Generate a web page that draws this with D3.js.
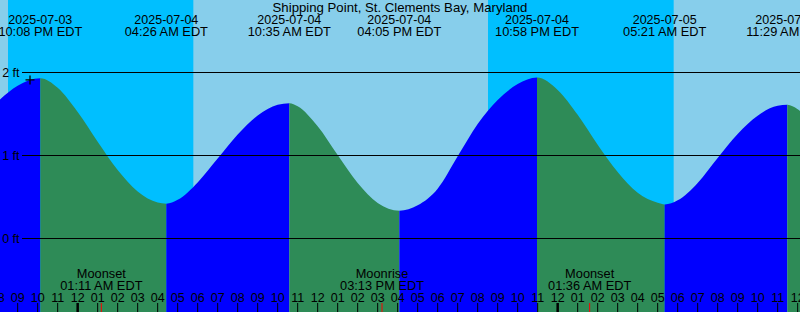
<!DOCTYPE html>
<html><head><meta charset="utf-8">
<script src="https://cdn.jsdelivr.net/npm/d3@7"></script>
<style>
body{margin:0;background:#fff}
svg{display:block}
text{font-family:"Liberation Sans",Arial,Helvetica,sans-serif;font-size:12.5px;fill:#000}
text.t{font-size:12.8px}
text.title{font-size:13.2px}
</style>
</head><body>
<svg id="c" width="800" height="312"></svg>
<script>
// ---- data ----
const title = "Shipping Point, St. Clements Bay, Maryland";
const chartStart = "2025-07-03 20:07";
const chartEnd = "2025-07-05 12:07";
const sunsetTimes = ["2025-07-03 20:31", "2025-07-04 20:31"];
const sunriseTimes = ["2025-07-04 05:47", "2025-07-05 05:48"];
const extremeTimes = ["2025-07-03 22:08","2025-07-04 04:26","2025-07-04 10:35","2025-07-04 16:05","2025-07-04 22:58","2025-07-05 05:21","2025-07-05 11:29"];
const extremeHeights = [1.93, 0.42, 1.63, 0.335, 1.94, 0.41, 1.61];
const extremeTypes = ["high","low","high","low","high","low","high"];
// hourly heights (ft), 2025-07-03 20:00 ... 2025-07-05 13:00
const hourlyStart = "2025-07-03 20:00";
const hourlyHeights = [
  1.65, 1.84, 1.928, 1.815,
  1.523, 1.166, 0.824, 0.565, 0.433, 0.466, 0.676, 0.963, 1.252, 1.482, 1.61, 1.594,
  1.351, 1.005, 0.669, 0.429, 0.336, 0.40, 0.60, 0.99, 1.38, 1.67, 1.86, 1.94,
  1.79, 1.49, 1.13, 0.80, 0.55, 0.43, 0.46, 0.67, 0.97, 1.26, 1.48, 1.60,
  1.556, 1.30
];
const moonTimes = ["2025-07-04 01:11", "2025-07-04 15:13", "2025-07-05 01:36"];
const moonLabels = ["Moonset", "Moonrise", "Moonset"];
const markTime = "2025-07-03 21:37";
const markHeight = 1.91;
const yTicks = [0, 1, 2];

// ---- chart ----
const W = 800, H = 312;
const parse = d3.timeParse("%Y-%m-%d %H:%M");
const svg = d3.select("#c");
const x = d3.scaleTime().domain([parse(chartStart), parse(chartEnd)]).range([0, W]);
const y = d3.scaleLinear().domain([0, 2]).range([238.5, 72.5]);

const colors = {day:"#87CEEB", night:"#00BFFF", rise:"#0000FF", fall:"#2E8B57"};

svg.append("rect").attr("x",0).attr("y",0).attr("width",W).attr("height",H).attr("fill",colors.day);
sunsetTimes.forEach((s,i)=>{
  const x0 = x(parse(s)), x1 = x(parse(sunriseTimes[i]));
  svg.append("rect").attr("x",x0).attr("y",0).attr("width",x1-x0).attr("height",H).attr("fill",colors.night);
});

// tide series
const t0 = parse(hourlyStart);
const hours = hourlyHeights.map((h,i)=>({t:d3.timeHour.offset(t0,i), h}));
const extremes = extremeTimes.map((s,i)=>({t:parse(s), h:extremeHeights[i], type:extremeTypes[i]}));
const series = hours.filter(d=>!extremes.some(e=>Math.abs(e.t-d.t)<20*60000))
  .concat(extremes.map(e=>({t:e.t,h:e.h})))
  .sort((a,b)=>a.t-b.t);

const area = d3.area().curve(d3.curveMonotoneX).x(d=>x(d.t)).y0(H).y1(d=>y(d.h));
const defs = svg.append("defs");
const bounds = [x.domain()[0]].concat(extremes.map(e=>e.t)).concat([x.domain()[1]]);
for (let i=0;i<bounds.length-1;i++){
  const a = x(bounds[i]), b = x(bounds[i+1]);
  const next = extremes[i];
  let col;
  if (next) col = next.type==="high" ? colors.rise : colors.fall;
  else col = extremes[extremes.length-1].type==="high" ? colors.fall : colors.rise;
  const id = "seg"+i;
  defs.append("clipPath").attr("id",id).append("rect")
    .attr("x",Math.min(a,b)).attr("y",0).attr("width",Math.abs(b-a)).attr("height",H);
  svg.append("path").datum(series).attr("d",area).attr("fill",col).attr("clip-path",`url(#${id})`);
}

// level lines + labels
yTicks.forEach(v=>{
  svg.append("line").attr("x1",22).attr("x2",W).attr("y1",y(v)).attr("y2",y(v))
    .attr("stroke","#000").attr("stroke-width",1);
  svg.append("text").attr("x",19.5).attr("y",y(v)+4.5).attr("text-anchor","end").text(v+" ft");
});

// mark plus
{
  const px = x(parse(markTime)), py = y(markHeight);
  svg.append("path").attr("d",`M${px-4.5},${py}H${px+4.5}M${px},${py-4.5}V${py+4.5}`)
    .attr("stroke","#000").attr("stroke-width",1.3).attr("fill","none");
}

// title and extreme labels
svg.append("text").attr("class","title").attr("x",W/2).attr("y",12).attr("text-anchor","middle").text(title);
const fDate = d3.timeFormat("%Y-%m-%d"), fTime = d3.timeFormat("%I:%M %p EDT");
extremes.forEach(e=>{
  const ex = x(e.t);
  svg.append("text").attr("x",ex).attr("y",24).attr("text-anchor","middle").text(fDate(e.t));
  svg.append("text").attr("class","t").attr("x",ex).attr("y",36).attr("text-anchor","middle").text(fTime(e.t));
});

// moon labels
moonTimes.forEach((s,i)=>{
  const mt = parse(s), mx = x(mt);
  svg.append("text").attr("class","t").attr("x",mx).attr("y",278).attr("text-anchor","middle").text(moonLabels[i]);
  svg.append("text").attr("class","t").attr("x",mx).attr("y",290).attr("text-anchor","middle").text(fTime(mt));
});

// hour axis
const hourTicks = d3.timeHour.range(d3.timeHour.offset(x.domain()[0],-1), d3.timeHour.offset(x.domain()[1],1));
const fHour = d3.timeFormat("%I");
hourTicks.forEach(t=>{
  const tx = x(t);
  const midnight = t.getHours()===0;
  svg.append("line").attr("x1",tx).attr("x2",tx).attr("y1",303).attr("y2",H)
    .attr("stroke","#000").attr("stroke-width",midnight?2.5:1);
  svg.append("text").attr("x",tx).attr("y",302).attr("text-anchor","middle").text(fHour(t));
});
moonTimes.forEach(s=>{
  const mx = x(parse(s));
  svg.append("line").attr("x1",mx).attr("x2",mx).attr("y1",303).attr("y2",H)
    .attr("stroke","#FF0000").attr("stroke-width",1);
});
</script>
</body></html>
